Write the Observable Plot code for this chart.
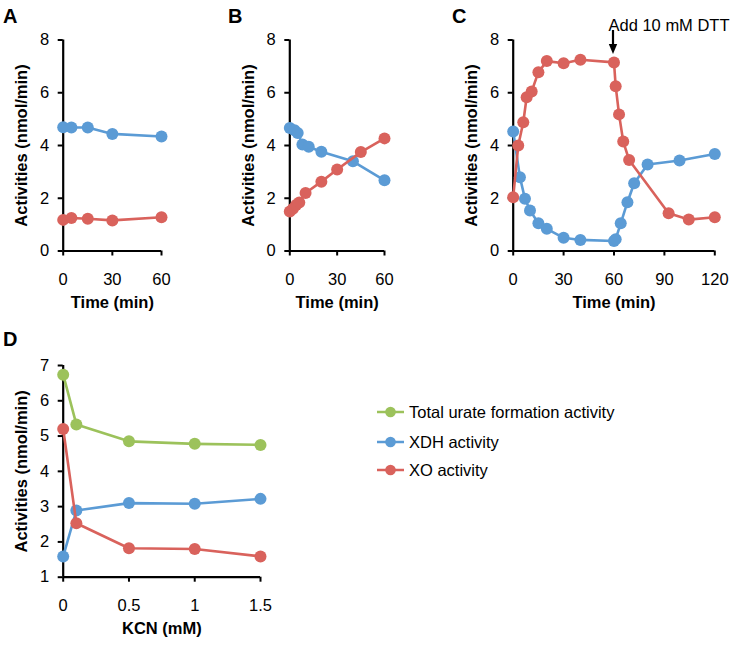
<!DOCTYPE html>
<html>
<head>
<meta charset="utf-8">
<script src="https://cdn.jsdelivr.net/npm/d3@7"></script>
<script src="https://cdn.jsdelivr.net/npm/@observablehq/plot@0.6"></script>
<style>
  body { margin: 0; background: #fff; }
  #fig { position: relative; width: 733px; height: 645px; font-family: "Liberation Sans", Arial, Helvetica, sans-serif; color: #000; overflow: hidden; }
  .panel { position: absolute; }
  .letter { position: absolute; font-weight: bold; font-size: 20px; line-height: 20px; }
  .legrow { position: absolute; left: 377px; height: 20px; line-height: 20px; font-size: 16.5px; white-space: nowrap; display: flex; align-items: center; }
  .legrow svg { margin-right: 5px; }
</style>
</head>
<body>
<div id="fig"></div>
<script>
// ---------- data ----------
const seriesNames = ["Total urate formation activity", "XDH activity", "XO activity"];
const seriesColors = ["#9cc25b", "#5b9bd5", "#d9625c"];

// Panel A
const aTime = [0, 5, 15, 30, 60];
const aXDH  = [4.69, 4.68, 4.68, 4.44, 4.34];
const aXO   = [1.18, 1.25, 1.22, 1.16, 1.28];

// Panel B
const bTimeXDH = [0, 3, 5, 8, 12, 20, 40, 60];
const bXDH     = [4.66, 4.58, 4.47, 4.04, 3.95, 3.76, 3.40, 2.68];
const bTimeXO  = [0, 2, 4, 6, 10, 20, 30, 45, 60];
const bXO      = [1.50, 1.60, 1.74, 1.84, 2.20, 2.63, 3.09, 3.75, 4.27];

// Panel C
const cTimeXDH = [0, 4, 7, 10, 15, 20, 30, 40, 60, 61, 64, 68, 72, 80, 99, 120];
const cXDH     = [4.53, 2.80, 1.98, 1.54, 1.05, 0.84, 0.50, 0.42, 0.38, 0.45, 1.05, 1.85, 2.57, 3.28, 3.43, 3.68];
const cTimeXO  = [0, 3, 6, 8, 11, 15, 20, 30, 40, 60, 61, 63, 65.5, 69, 92.5, 104.5, 120];
const cXO      = [2.04, 4.00, 4.88, 5.83, 6.05, 6.78, 7.20, 7.12, 7.25, 7.15, 6.25, 5.18, 4.15, 3.45, 1.43, 1.19, 1.28];
const dttTime  = [60];
const dttLabel = ["Add 10 mM DTT"];

// Panel D
const dKCN   = [0, 0.1, 0.5, 1, 1.5];
const dTotal = [6.74, 5.33, 4.85, 4.78, 4.75];
const dXDH   = [1.59, 2.89, 3.10, 3.08, 3.22];
const dXO    = [5.20, 2.53, 1.82, 1.80, 1.59];

// tick values
const ticks60  = [0, 30, 60];
const ticks120 = [0, 30, 60, 90, 120];
const ticksY8  = [0, 2, 4, 6, 8];
const ticksKCN = [0, 0.5, 1, 1.5];
const ticksY7  = [1, 2, 3, 4, 5, 6, 7];

const yLabel = "Activities (nmol/min)";
const timeLabel = "Time (min)";
const kcnLabel = "KCN (mM)";

// ---------- helpers ----------
const FONT = '"Liberation Sans", Arial, Helvetica, sans-serif';
const FS = 16.5;
function rows(xs, ys, s) { return xs.map((x, i) => ({x, y: ys[i], s})); }

function seriesMarks(data, color) {
  return [
    Plot.line(data, {x: "x", y: "y", stroke: color, strokeWidth: 2.6}),
    Plot.dot(data, {x: "x", y: "y", r: 6, fill: color})
  ];
}

// arrowhead symbol with its tip at the anchor point
const arrowHead = {
  draw(ctx) { ctx.moveTo(0, 0); ctx.lineTo(-4.2, -10); ctx.lineTo(4.2, -10); ctx.closePath(); }
};

const fmt = d => String(d);

function panel(opts) {
  const {left, top, width, height, fl, fr, ft, fb, xDomain, xTicks, yDomain, yTicks, xLabel, series, extra = []} = opts;
  const chart = Plot.plot({
    width, height,
    marginLeft: fl - left,
    marginRight: left + width - fr,
    marginTop: ft - top,
    marginBottom: top + height - fb,
    x: {domain: xDomain},
    y: {domain: yDomain},
    style: {fontFamily: FONT, fontSize: FS + "px", color: "#000", background: "transparent", overflow: "visible"},
    marks: [
      Plot.axisX({ticks: xTicks, tickFormat: fmt, tickSize: 5, tickPadding: 17, strokeWidth: 2, label: null, fontSize: FS}),
      Plot.axisY({ticks: yTicks, tickFormat: fmt, tickSize: 5, tickPadding: 9, strokeWidth: 2, label: null, fontSize: FS}),
      Plot.ruleY([yDomain[0]], {stroke: "#000", strokeWidth: 2.2}),
      Plot.ruleX([xDomain[0]], {stroke: "#000", strokeWidth: 2.2}),
      Plot.text([yLabel], {text: d => d, frameAnchor: "left", textAnchor: "middle", rotate: -90, dx: -41, fontWeight: "bold", fontSize: FS}),
      Plot.text([xLabel], {text: d => d, frameAnchor: "bottom", textAnchor: "middle", dy: 57, fontWeight: "bold", fontSize: FS}),
      ...series.flatMap(([d, c]) => seriesMarks(d, c)),
      ...extra
    ]
  });
  chart.classList.add("panel");
  chart.style.left = left + "px";
  chart.style.top = top + "px";
  return chart;
}

const fig = document.getElementById("fig");
const [cTot, cXdh, cXo] = seriesColors;

// Panel A
fig.appendChild(panel({
  left: 0, top: 0, width: 228, height: 320,
  fl: 62.7, fr: 161, ft: 39.5, fb: 250.5,
  xDomain: [0, 60], xTicks: ticks60, yDomain: [0, 8], yTicks: ticksY8, xLabel: timeLabel,
  series: [[rows(aTime, aXDH, "XDH"), cXdh], [rows(aTime, aXO, "XO"), cXo]]
}));

// Panel B
fig.appendChild(panel({
  left: 228, top: 0, width: 228, height: 320,
  fl: 289.3, fr: 384, ft: 39.5, fb: 250.5,
  xDomain: [0, 60], xTicks: ticks60, yDomain: [0, 8], yTicks: ticksY8, xLabel: timeLabel,
  series: [[rows(bTimeXDH, bXDH, "XDH"), cXdh], [rows(bTimeXO, bXO, "XO"), cXo]]
}));

// Panel C
const dtt = dttTime.map((t, i) => ({t, label: dttLabel[i]}));
fig.appendChild(panel({
  left: 456, top: 0, width: 277, height: 320,
  fl: 512.7, fr: 714.3, ft: 39.5, fb: 250.5,
  xDomain: [0, 120], xTicks: ticks120, yDomain: [0, 8], yTicks: ticksY8, xLabel: timeLabel,
  series: [[rows(cTimeXDH, cXDH, "XDH"), cXdh], [rows(cTimeXO, cXO, "XO"), cXo]],
  extra: [
    Plot.ruleX(dtt, {x: "t", y1: 8.36, y2: 7.75, stroke: "#000", strokeWidth: 2.2, dx: -1}),
    Plot.dot(dtt, {x: "t", y: 7.47, symbol: arrowHead, fill: "#000", stroke: "none", dx: -1}),
    Plot.text(dtt, {x: "t", y: 8.56, text: "label", textAnchor: "start", dx: -5.5, fontSize: FS})
  ]
}));

// Panel D
fig.appendChild(panel({
  left: 0, top: 320, width: 330, height: 325,
  fl: 62.7, fr: 260, ft: 365, fb: 576.7,
  xDomain: [0, 1.5], xTicks: ticksKCN, yDomain: [1, 7], yTicks: ticksY7, xLabel: kcnLabel,
  series: [[rows(dKCN, dTotal, "Total"), cTot], [rows(dKCN, dXDH, "XDH"), cXdh], [rows(dKCN, dXO, "XO"), cXo]]
}));

// Panel letters
[["A", 3, 6], ["B", 228, 6], ["C", 452, 6], ["D", 3, 328.5]].forEach(([t, x, y]) => {
  const el = document.createElement("div");
  el.className = "letter";
  el.textContent = t;
  el.style.left = x + "px";
  el.style.top = y + "px";
  fig.appendChild(el);
});

// Legend
const legCenters = [412, 441.5, 470];
seriesNames.forEach((name, i) => {
  const row = document.createElement("div");
  row.className = "legrow";
  row.style.top = (legCenters[i] - 10) + "px";
  const ns = "http://www.w3.org/2000/svg";
  const sw = document.createElementNS(ns, "svg");
  sw.setAttribute("width", 27); sw.setAttribute("height", 14);
  const ln = document.createElementNS(ns, "line");
  ln.setAttribute("x1", 0); ln.setAttribute("x2", 27); ln.setAttribute("y1", 7); ln.setAttribute("y2", 7);
  ln.setAttribute("stroke", seriesColors[i]); ln.setAttribute("stroke-width", 2.5);
  const c = document.createElementNS(ns, "circle");
  c.setAttribute("cx", 13.5); c.setAttribute("cy", 7); c.setAttribute("r", 5.3); c.setAttribute("fill", seriesColors[i]);
  sw.appendChild(ln); sw.appendChild(c);
  const tx = document.createElement("span");
  tx.textContent = name;
  row.appendChild(sw); row.appendChild(tx);
  fig.appendChild(row);
});
</script>
</body>
</html>
